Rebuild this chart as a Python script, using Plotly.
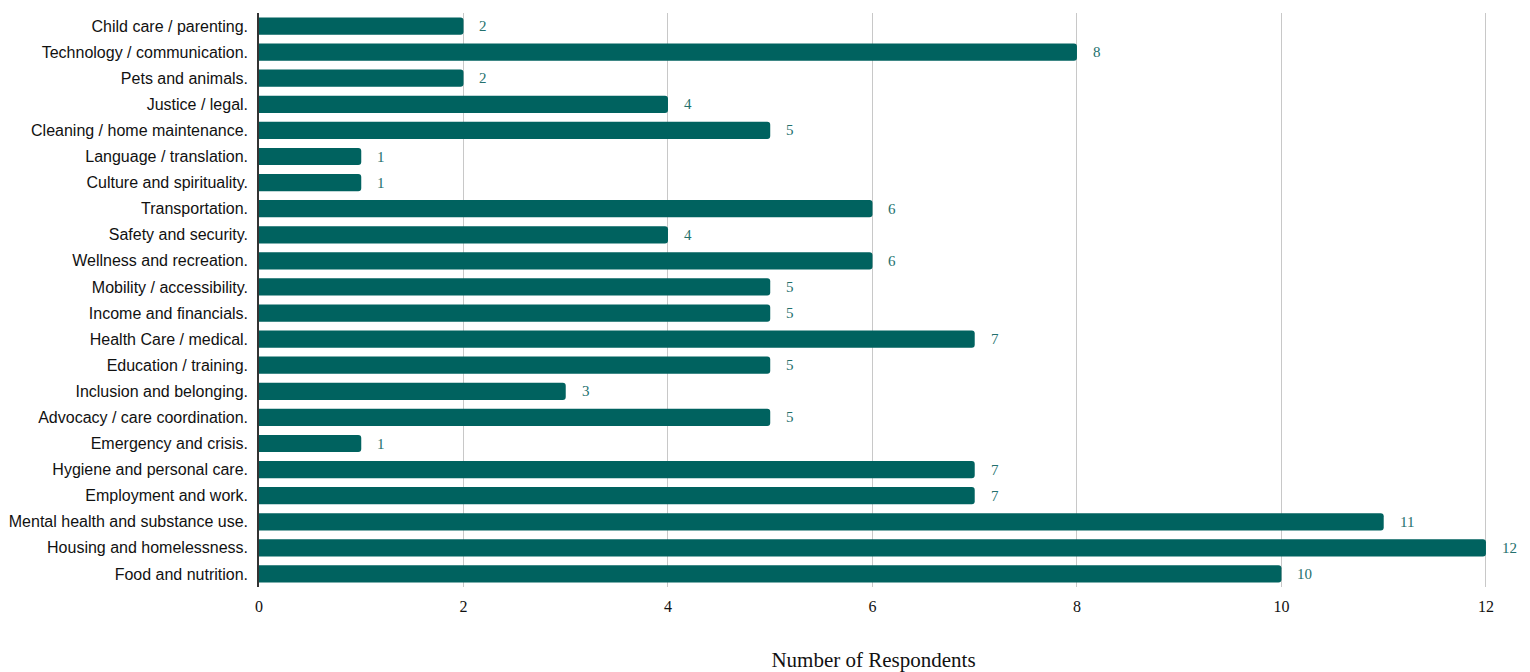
import plotly.graph_objects as go

categories = [
    "Child care / parenting.", "Technology / communication.", "Pets and animals.",
    "Justice / legal.", "Cleaning / home maintenance.", "Language / translation.",
    "Culture and spirituality.", "Transportation.", "Safety and security.",
    "Wellness and recreation.", "Mobility / accessibility.", "Income and financials.",
    "Health Care / medical.", "Education / training.", "Inclusion and belonging.",
    "Advocacy / care coordination.", "Emergency and crisis.", "Hygiene and personal care.",
    "Employment and work.", "Mental health and substance use.", "Housing and homelessness.",
    "Food and nutrition.",
]
values = [2, 8, 2, 4, 5, 1, 1, 6, 4, 6, 5, 5, 7, 5, 3, 5, 1, 7, 7, 11, 12, 10]
x_ticks = [0, 2, 4, 6, 8, 10, 12]

BAR = "#00625f"
LABEL = "#23706d"

fig = go.Figure(go.Bar(
    y=categories, x=values, orientation="h",
    marker=dict(color=BAR, cornerradius=3, line=dict(width=0)),
    hoverinfo="x+y",
))

for c, v in zip(categories, values):
    fig.add_annotation(x=v, y=c, text=str(v), showarrow=False, xanchor="left",
                       xshift=14, font=dict(family="Liberation Serif", size=15, color=LABEL))

fig.update_layout(
    width=1530, height=672,
    margin=dict(l=251, r=50, t=5, b=93, autoexpand=False),
    plot_bgcolor="white", paper_bgcolor="white",
    bargap=0.34, showlegend=False,
    xaxis=dict(
        range=[0, 12.02], tickvals=x_ticks, showgrid=True, gridcolor="#c8c8c8", gridwidth=1,
        zeroline=False, showline=False, ticks="", automargin=False, ticklabelstandoff=8,
        tickfont=dict(family="Liberation Serif", size=16, color="#111"),
        title=dict(text="Number of Respondents", standoff=38,
                   font=dict(family="Liberation Serif", size=21, color="#111")),
    ),
    yaxis=dict(
        autorange="reversed", showline=True, linecolor="#333", linewidth=1.5,
        ticks="", ticklabelstandoff=6, automargin=False,
        tickfont=dict(family="Liberation Sans", size=16, color="#111"),
    ),
)

fig.write_html("out.html")
